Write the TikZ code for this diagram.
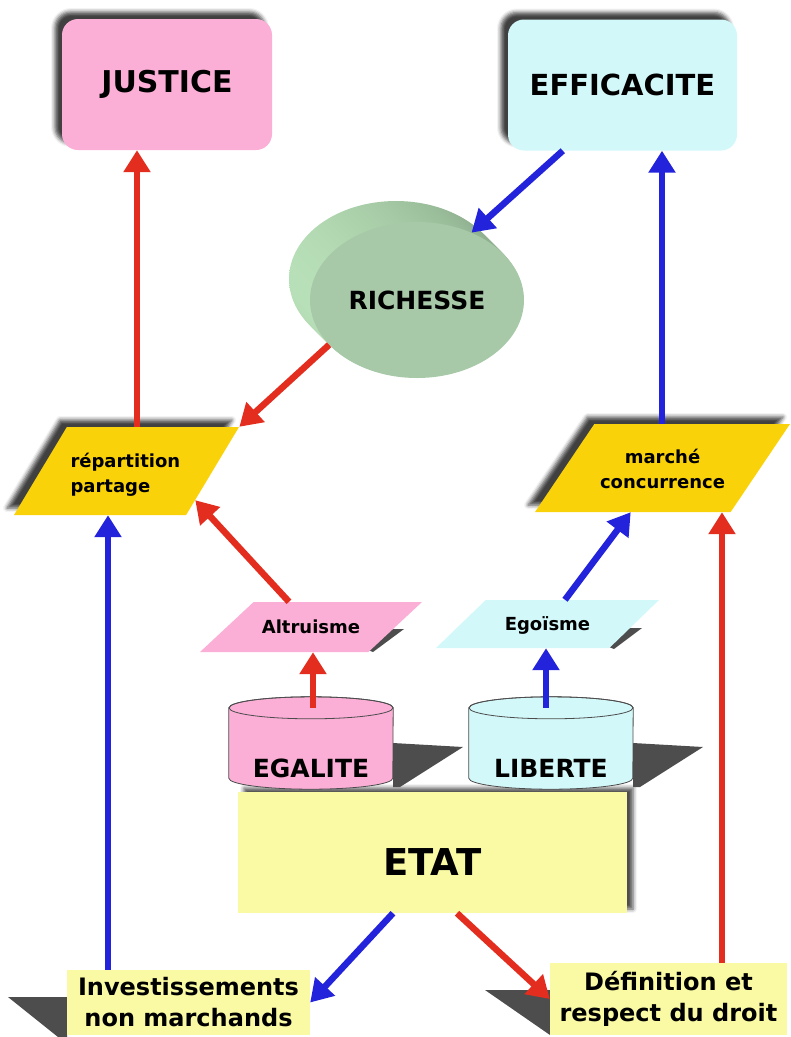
\documentclass[tikz,border=0pt]{standalone}
\usepackage{fontspec}
\setmainfont{DejaVu Sans}
\usetikzlibrary{arrows.meta,shapes.geometric,shadows.blur,calc}

\definecolor{goalpink}{RGB}{251,174,214}
\definecolor{goalcyan}{RGB}{211,248,250}
\definecolor{paragold}{RGB}{250,210,10}
\definecolor{etatyellow}{RGB}{250,250,165}
\definecolor{richfront}{RGB}{168,201,168}
\definecolor{richlight}{RGB}{184,224,184}
\definecolor{richdark}{RGB}{138,170,138}
\definecolor{arrowred}{RGB}{227,45,30}
\definecolor{arrowblue}{RGB}{35,35,220}
\definecolor{shadowgray}{RGB}{77,77,77}

\tikzset{
  redarrow/.style={draw=arrowred, line width=6.5pt, -{Triangle[width=26pt,length=22pt]}},
  bluearrow/.style={draw=arrowblue, line width=6.5pt, -{Triangle[width=26pt,length=22pt]}},
  upshadow/.style={blur shadow={shadow xshift=-7pt, shadow yshift=7pt, shadow blur radius=4pt, shadow opacity=75}},
  goal/.style={rectangle, rounded corners=16pt, minimum width=#1, minimum height=131pt,
    font=\fontsize{30}{36}\selectfont\bfseries, upshadow},
  para/.style={trapezium, trapezium stretches body, inner sep=0pt,
    font=\fontsize{18}{25}\selectfont\bfseries},
  cylbody/.style={rectangle, minimum width=164pt, minimum height=70pt, inner sep=0pt},
  cyltext/.style={font=\fontsize{25}{30}\selectfont\bfseries},
  cyldraw/.style={draw=black!70, line width=0.8pt},
  lowbox/.style={rectangle, fill=etatyellow, align=center, inner sep=0pt,
    font=\fontsize{24}{31}\selectfont\bfseries},
}

\begin{document}
\begin{tikzpicture}[x=1pt,y=-1pt]
\useasboundingbox (0,0) rectangle (791,1037);

% goals
\node[goal=210pt, fill=goalpink] (justice) at (167,84.5) {JUSTICE};
\node[goal=229pt, fill=goalcyan, font=\fontsize{29}{35}\selectfont\bfseries] (efficacite) at (622.5,85) {EFFICACITE};

% richesse
\coordinate (richcenter) at (417,300);
\foreach \d in {21,20,...,1}
  \shade[left color=richlight, right color=richdark] ($(richcenter)+(-\d,-\d)$) ellipse [x radius=107pt, y radius=78pt];
\node[ellipse, fill=richfront, minimum width=214pt, minimum height=156pt, inner sep=0pt,
  font=\fontsize{25}{30}\selectfont\bfseries] (richesse) at (richcenter) {RICHESSE};

% means
\node[para, fill=paragold, upshadow, trapezium left angle=59, trapezium right angle=121,
  minimum width=225pt, text width=112pt, align=left, text height=40pt, text depth=48pt]
  (repartition) at (126.5,471) {répartition\\partage};
\node[para, fill=paragold, upshadow, trapezium left angle=56, trapezium right angle=124,
  minimum width=255pt, text width=130pt, align=center, text height=39pt, text depth=49pt]
  (marche) at (662.5,468) {marché\\concurrence};

% values
\fill[shadowgray] (368,650) -- (392,629) -- (404,629) -- (373,652) -- cycle;
\fill[shadowgray] (609,647) -- (627,628) -- (642,628) -- (614,649) -- cycle;
\node[para, fill=goalpink, trapezium left angle=43, trapezium right angle=137,
  minimum width=222pt, text height=31pt, text depth=19pt] (altruisme) at (311,627) {Altruisme};
\node[para, fill=goalcyan, trapezium left angle=44, trapezium right angle=136,
  minimum width=223pt, text height=30pt, text depth=18pt] (egoisme) at (547.5,624) {Egoïsme};

% etat
\node[rectangle, fill=etatyellow, minimum width=389pt, minimum height=121pt,
  text height=45pt, text depth=0pt, font=\fontsize{37}{44}\selectfont\bfseries,
  blur shadow={shadow xshift=6pt, shadow yshift=4pt, shadow blur radius=4pt, shadow opacity=70}] (etat) at (432.5,852.5) {ETAT};

% cylinders
\fill[shadowgray] (393,743) -- (463,747) -- (400,787) -- (393,787) -- cycle;
\fill[shadowgray] (633,743) -- (703,747) -- (640,787) -- (633,787) -- cycle;
\node[cylbody] (egalite) at (311,743) {};
\node[cylbody] (liberte) at (551,743) {};
\foreach \c/\f in {egalite/goalpink, liberte/goalcyan} {
  \filldraw[cyldraw, fill=\f] (\c.north west) -- (\c.south west)
    arc[start angle=180, end angle=360, x radius=82pt, y radius=11pt]
    -- (\c.north east) arc[start angle=0, end angle=180, x radius=82pt, y radius=11pt] -- cycle;
  \draw[cyldraw] (\c.north) ellipse [x radius=82pt, y radius=11pt];
}
\node[cyltext] (egalitetext) at ([yshift=10pt]egalite.south) {EGALITE};
\node[cyltext] (libertetext) at ([yshift=10pt]liberte.south) {LIBERTE};

% actions
\fill[shadowgray] (8,997) -- (67,997) -- (67,1037) -- (58,1037) -- cycle;
\fill[shadowgray] (485,990) -- (550,990) -- (550,1035) -- cycle;
\node[lowbox, minimum width=243pt, minimum height=65pt] (invest) at (188.5,1002.5) {Investissements\\non marchands};
\node[lowbox, minimum width=237pt, minimum height=72pt] (definition) at (668.5,999) {Définition et\\respect du droit};

% arrows
\draw[redarrow] (repartition.north -| 137,0) -- (justice.south -| 137,0);
\draw[bluearrow] (marche.north -| 662,0) -- (efficacite.south -| 662,0);
\draw[bluearrow] ([xshift=55pt]efficacite.south west) -- (richesse.51);
\draw[redarrow] (richesse.207) -- (repartition.top right corner);
\draw[redarrow] (altruisme.north -| 289,0) -- ($(repartition.top right corner)!0.83!(repartition.bottom right corner)$);
\draw[bluearrow] (egoisme.north -| 565,0) -- ($(marche.bottom left corner)!0.49!(marche.bottom right corner)$);
\draw[redarrow] (egalite.north -| 313,0) -- (altruisme.south -| 313,0);
\draw[bluearrow] (liberte.north -| 546,0) -- (egoisme.south -| 546,0);
\draw[bluearrow] (invest.north -| 108,0) -- (repartition.south -| 108,0);
\draw[redarrow] (definition.north -| 722,0) -- (marche.south -| 722,0);
\draw[bluearrow] (etat.south -| 393,0) -- (invest.east);
\draw[redarrow] (etat.south -| 457,0) -- (definition.west);
\end{tikzpicture}
\end{document}
